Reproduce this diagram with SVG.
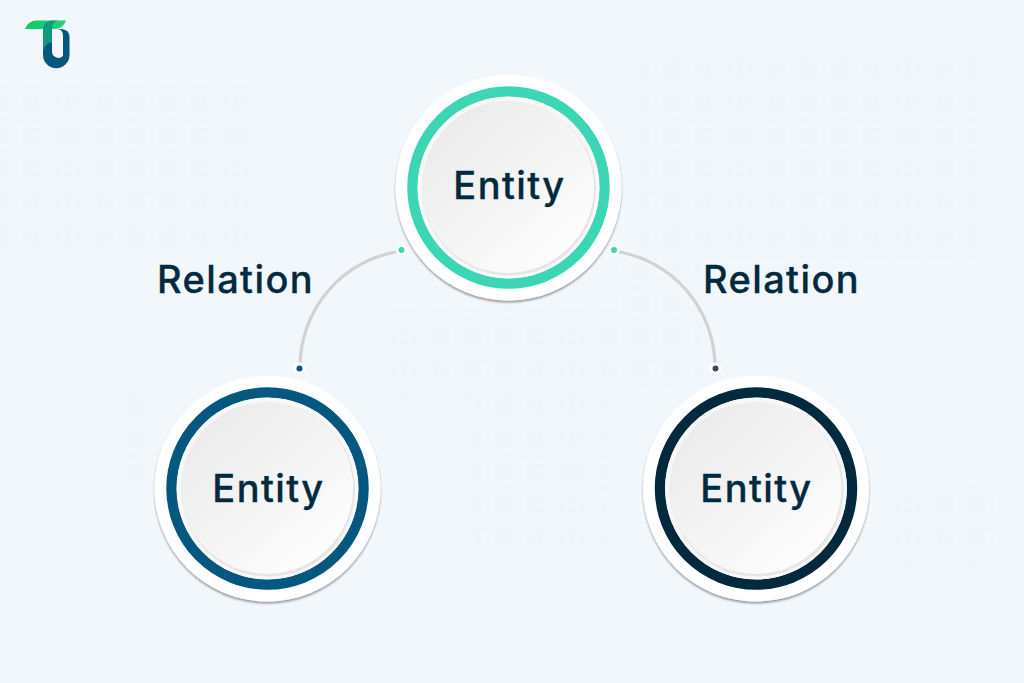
<svg xmlns="http://www.w3.org/2000/svg" width="1024" height="683" viewBox="0 0 1024 683">
<style>
.t{font-family:Inter,"Liberation Sans",sans-serif;font-weight:500;font-size:38px;fill:#012a3e;stroke:#012a3e;stroke-width:.3;text-anchor:middle;letter-spacing:1.4px}
.outer{fill:#fff;filter:url(#sh)}
.ring{fill:none;stroke-width:10.5}
.under{fill:#e4e5e6}
.disc{fill:url(#g)}
.gap{fill:#f8f8f9}
.line{fill:none;stroke:#d0d2d4;stroke-width:3.2}
.halo{fill:#fff}
.tex{fill:url(#dots)}
</style>
<defs>
<linearGradient id="g" x1="0.15" y1="0.1" x2="0.85" y2="0.9"><stop offset="0" stop-color="#ebebec"/><stop offset="1" stop-color="#fdfdfd"/></linearGradient>
<filter id="sh" x="-10%" y="-10%" width="120%" height="120%"><feDropShadow dx="0" dy="2" stdDeviation="1.3" flood-color="#000" flood-opacity=".38"/></filter>
<pattern id="dots" width="10.500" height="10.500" patternUnits="userSpaceOnUse"><circle cx="5" cy="5" r="3" fill="#f0f5f9"/></pattern>
<linearGradient id="lg" x1="0" y1="0" x2="1" y2="0"><stop offset="0" stop-color="#10c968"/><stop offset="1" stop-color="#1ed27a"/></linearGradient>
</defs>
<rect width="1024" height="683" fill="#f2f7fb"/>
<g id="texture">
<rect class="tex" x="640" y="48" width="340" height="210"/>
<rect class="tex" x="620" y="258" width="80" height="130"/>
<rect class="tex" x="0" y="85" width="260" height="170"/>
<rect class="tex" x="390" y="310" width="230" height="90"/>
<rect class="tex" x="475" y="400" width="130" height="160"/>
<rect class="tex" x="120" y="385" width="30" height="100"/>
<rect class="tex" x="880" y="480" width="120" height="90"/>
</g>
<g id="logo">
<path d="M25 29 Q28 21 36 20.500 H66 Q63 29 55 29 Z" fill="url(#lg)"/>
<path d="M43 29 H52 V52 A6.500 6.500 0 0 0 63 56 V36 Q63 29 57 29 H62 Q69.500 30 69.500 37 V55 A13 13 0 0 1 43 55 Z" fill="#04587f"/>
<path d="M43 29 Q43.500 21 52 20.500 H58 Q52 22 52 29 V42 Q44 44 43 52 Z" fill="#129a7a"/>
</g>
<g id="connectors">
<path class="line" d="M401 251 A117 117 0 0 0 300 368"/>
<path class="line" d="M614 251 A117 117 0 0 1 715 368"/>
<circle class="halo" cx="401.500" cy="250" r="6"/><circle cx="401.500" cy="250" r="3" fill="#3dd6b5"/>
<circle class="halo" cx="614" cy="250" r="6"/><circle cx="614" cy="250" r="3" fill="#3dd6b5"/>
<circle class="halo" cx="299.500" cy="368.500" r="6"/><circle cx="299.500" cy="368.500" r="3" fill="#04587f"/>
<circle class="halo" cx="715.500" cy="368.500" r="6"/><circle cx="715.500" cy="368.500" r="3" fill="#3b4a66"/>
</g>
<g id="entity-top">
<circle class="outer" cx="508.500" cy="187.500" r="113"/>
<circle class="ring" cx="508.500" cy="187.500" r="96" stroke="#3dd6b5"/>
<circle class="gap" cx="508.500" cy="187.500" r="91"/>
<circle class="under" cx="509" cy="188.500" r="87"/>
<circle class="disc" cx="508" cy="187" r="86"/>
<text class="t" x="509.500" y="198.500">Entity</text>
</g>
<g id="entity-left">
<circle class="outer" cx="267.500" cy="488.500" r="113"/>
<circle class="ring" cx="267.500" cy="488.500" r="96" stroke="#04587f"/>
<circle class="gap" cx="267.500" cy="488.500" r="91"/>
<circle class="under" cx="268" cy="489.500" r="87"/>
<circle class="disc" cx="267" cy="488" r="86"/>
<text class="t" x="268.500" y="501.500">Entity</text>
</g>
<g id="entity-right">
<circle class="outer" cx="756" cy="488.500" r="113"/>
<circle class="ring" cx="756" cy="488.500" r="96" stroke="#02293d"/>
<circle class="gap" cx="756" cy="488.500" r="91"/>
<circle class="under" cx="756.500" cy="489.500" r="87"/>
<circle class="disc" cx="755.500" cy="488" r="86"/>
<text class="t" x="756.500" y="501.500">Entity</text>
</g>
<text class="t" x="235.500" y="292.500">Relation</text>
<text class="t" x="781.500" y="292.500">Relation</text>
</svg>
